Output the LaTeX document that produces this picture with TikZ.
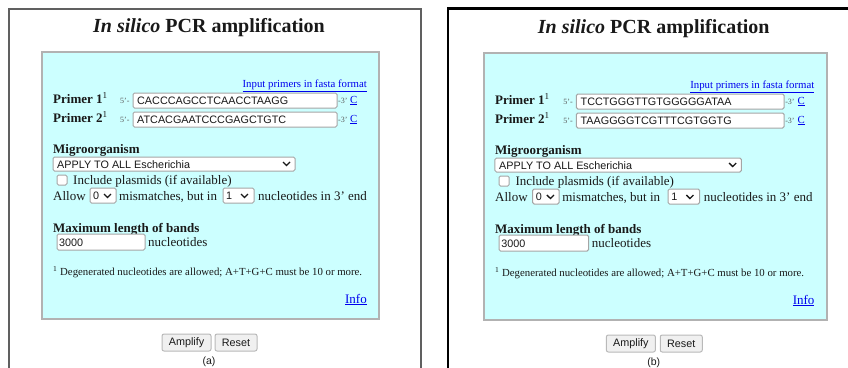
\documentclass[tikz,border=0pt]{standalone}
\usepackage{fontspec}
\setmainfont{Liberation Serif}
\setsansfont{Liberation Sans}
\definecolor{formcyan}{RGB}{204, 255, 255}
\definecolor{linkblue}{RGB}{0, 0, 238}
\definecolor{fieldgray}{RGB}{165, 165, 165}
\definecolor{inktext}{RGB}{25, 25, 25}

% one form panel: #1 name prefix, #2 primer 1, #3 primer 2, #4 caption
\newcommand{\pcrpanel}[4]{%
  % Title
  \node[anchor=base, inner sep=0, text=inktext, font=\fontsize{20}{24}\selectfont\bfseries] (#1title) at (209, 32) {\textit{In silico} PCR amplification};

  % Form area
  \draw[formbox] (42, 52) rectangle (379, 319);
  \node[link, anchor=base east, font=\fontsize{10.8}{12}\selectfont] (#1fasta) at (367, 87) {\underline{Input primers in fasta format}};

  % Primers
  \node[boldlbl] (#1pone) at (53, 103) {Primer 1\textsuperscript{\mdseries 1}};
  \node[small] (#1ponefive) at (120, 103) {5'-};
  \draw[field] (133, 93) rectangle (337, 108);
  \node[fieldtext] (#1poneseq) at (137, 104.5) {#2};
  \node[small] (#1ponethree) at (338, 103) {-3'};
  \node[link, font=\fontsize{10.8}{12}\selectfont] (#1ponec) at (350, 103) {\underline{C}};

  \node[boldlbl] (#1ptwo) at (53, 122) {Primer 2\textsuperscript{\mdseries 1}};
  \node[small] (#1ptwofive) at (120, 122) {5'-};
  \draw[field] (133, 112) rectangle (337, 127);
  \node[fieldtext] (#1ptwoseq) at (137, 123.5) {#3};
  \node[small] (#1ptwothree) at (338, 122) {-3'};
  \node[link, font=\fontsize{10.8}{12}\selectfont] (#1ptwoc) at (350, 122) {\underline{C}};

  % Organism
  \node[boldlbl] (#1org) at (53, 153) {Migroorganism};
  \draw[field] (53, 157) rectangle (295, 171);
  \node[fieldtext] (#1orgsel) at (57, 168) {APPLY TO ALL Escherichia};
  \draw[chev] (283, 162) -- (286.5, 165.5) -- (290, 162);

  \draw[field] (57, 175) rectangle (67, 185);
  \node[lbl] (#1plasmid) at (73, 184) {Include plasmids (if available)};

  \node[lbl] (#1allow) at (53, 200) {Allow};
  \draw[field] (90, 188) rectangle (116, 203);
  \node[fieldtext] (#1mis) at (93, 199.5) {0};
  \draw[chev] (104, 194) -- (107.5, 197.5) -- (111, 194);
  \node[lbl] (#1misl) at (119, 200) {mismatches, but in};
  \draw[field] (223, 188) rectangle (254, 203);
  \node[fieldtext] (#1nuc) at (226, 199.5) {1};
  \draw[chev] (241, 194) -- (244.5, 197.5) -- (248, 194);
  \node[lbl] (#1nucl) at (258, 200) {nucleotides in 3' end};

  % Band length
  \node[boldlbl] (#1maxl) at (53, 232) {Maximum length of bands};
  \draw[field] (57, 234) rectangle (145, 250);
  \node[fieldtext] (#1len) at (59, 246.5) {3000};
  \node[lbl] (#1lenl) at (148, 246) {nucleotides};

  % Footnote
  \node[lbl, font=\fontsize{10.8}{12}\selectfont] (#1note) at (53, 275) {\textsuperscript{1} Degenerated nucleotides are allowed; A+T+G+C must be 10 or more.};
  \node[link, anchor=base east, font=\fontsize{13}{15}\selectfont] (#1info) at (367, 303) {\underline{Info}};

  % Buttons
  \node[button, minimum width=49, minimum height=17] (#1amp) at (186.5, 342.5) {Amplify};
  \node[button, minimum width=42, minimum height=17] (#1reset) at (236, 342.5) {Reset};
  \node[inner sep=0, anchor=base, text=inktext, font=\sffamily\fontsize{10.5}{12}\selectfont] (#1cap) at (209, 364) {#4};
}

\begin{document}
\begin{tikzpicture}[x=1pt, y=-1pt,
  serif/.style={inner sep=0, anchor=base west, text=inktext},
  lbl/.style={serif, font=\fontsize{13}{15}\selectfont},
  boldlbl/.style={serif, font=\fontsize{13}{15}\selectfont\bfseries},
  small/.style={serif, text=gray!70!black, font=\fontsize{8}{9}\selectfont},
  link/.style={serif, text=linkblue},
  field/.style={draw=fieldgray, fill=white, line width=1pt, rounded corners=1.5pt},
  fieldtext/.style={inner sep=0, anchor=base west, text=inktext, font=\sffamily\fontsize{10.8}{12}\selectfont},
  formbox/.style={draw=gray!60, fill=formcyan, line width=2.5pt},
  button/.style={draw=gray!55, fill=gray!12, line width=1pt, rounded corners=2pt, inner sep=0, text=inktext, font=\sffamily\fontsize{10.8}{12}\selectfont},
  chev/.style={draw=inktext, line width=1.3pt}]
  \useasboundingbox (0, 0) rectangle (848, 367);
  \clip (0, 0) rectangle (848, 367);

  % Frames
  \draw[gray!75!black, line width=1.5pt] (9, 380) -- (9, 9) -- (421, 9) -- (421, 380);
  \draw[black, line width=2.2pt] (448, 380) -- (448, 8.5) -- (860, 8.5);

  % (a)
  \pcrpanel{a}{CACCCAGCCTCAACCTAAGG}{ATCACGAATCCCGAGCTGTC}{(a)}

  % (b)
  \begin{scope}[shift={(441, 1)}, xscale=1.018]
    \pcrpanel{b}{TCCTGGGTTGTGGGGGATAA}{TAAGGGGTCGTTTCGTGGTG}{(b)}
  \end{scope}
\end{tikzpicture}
\end{document}
